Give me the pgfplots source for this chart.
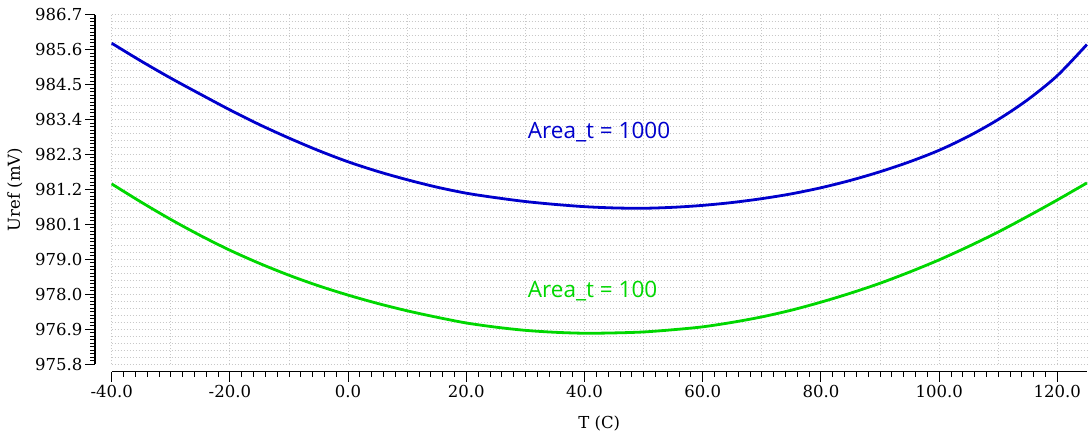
\documentclass[border=0pt]{standalone}
\usepackage{fontspec}
\setmainfont{DejaVu Serif}
\newfontfamily\lblfont{Open Sans}
\usepackage{pgfplots}
\pgfplotsset{compat=1.18}
\definecolor{cblue}{RGB}{0,0,204}
\definecolor{cgreen}{RGB}{0,215,0}
\definecolor{cgrid}{RGB}{200,200,200}

\pgfplotstableread{
x y
-40 985.81
-35 985.25
-30 984.72
-25 984.22
-20 983.73
-15 983.27
-10 982.85
-5 982.46
0 982.11
5 981.81
10 981.55
15 981.32
20 981.13
25 980.99
30 980.87
35 980.78
40 980.71
45 980.67
50 980.66
55 980.69
60 980.75
65 980.84
70 980.96
75 981.11
80 981.30
85 981.53
90 981.80
95 982.11
100 982.47
105 982.91
110 983.43
115 984.05
120 984.80
125 985.77
}\blueT

\pgfplotstableread{
x y
-40 981.42
-35 980.85
-30 980.31
-25 979.81
-20 979.35
-15 978.94
-10 978.57
-5 978.24
0 977.95
5 977.69
10 977.46
15 977.26
20 977.08
25 976.95
30 976.85
35 976.79
40 976.76
45 976.77
50 976.80
55 976.87
60 976.96
65 977.10
70 977.27
75 977.48
80 977.73
85 978.01
90 978.32
95 978.67
100 979.05
105 979.47
110 979.92
115 980.41
120 980.92
125 981.45
}\greenT

\begin{document}
\begin{tikzpicture}
\useasboundingbox (-111.7pt,-68pt) rectangle (977.3pt,364pt);
\begin{axis}[
  at={(0,0)}, anchor=south west,
  scale only axis,
  width=975.2pt, height=349.3pt,
  xmin=-40, xmax=125,
  ymin=975.8, ymax=986.7,
  axis x line*=bottom, axis y line*=left,
  axis x line shift=7.7pt,
  axis y line shift=16.7pt,
  xtick={-40,-20,0,20,40,60,80,100,120},
  xticklabels={-40.0,-20.0,0.0,20.0,40.0,60.0,80.0,100.0,120.0},
  ytick={975.8,976.89,977.98,979.07,980.16,981.25,982.34,983.43,984.52,985.61,986.7},
  yticklabels={975.8,976.9,978.0,979.0,980.1,981.2,982.3,983.4,984.5,985.6,986.7},
  minor x tick num=9,
  minor y tick num=9,
  tick align=outside,
  major tick length=10pt,
  minor tick length=5pt,
  every tick/.style={black, line width=0.9pt},
  axis line style={black, line width=1.2pt},
  tick label style={font=\fontsize{16.5}{19}\selectfont},
  yticklabel style={xshift=1pt},
  xlabel={T (C)}, ylabel={Uref (mV)},
  every axis x label/.style={at={(axis description cs:0.5,0)}, yshift=-59.5pt, anchor=center, font=\fontsize{16.5}{19}\selectfont},
  every axis y label/.style={at={(axis description cs:0,0.5)}, xshift=-96.7pt, rotate=90, anchor=center, font=\fontsize{16.5}{19}\selectfont},
  clip=false,
]
\pgfplotsinvokeforeach{0,...,50}{
  \draw[cgrid, line width=0.9pt, dash pattern=on 1pt off 2pt] (axis cs:-40,{975.8+#1*0.218}) -- (axis cs:125,{975.8+#1*0.218});
}
\pgfplotsinvokeforeach{-40,-30,...,120}{
  \draw[cgrid, line width=0.9pt, dash pattern=on 1pt off 2pt] (axis cs:#1,975.8) -- (axis cs:#1,986.7);
}
\addplot[cblue, line width=2.8pt, smooth] table[x=x,y=y] {\blueT};
\addplot[cgreen, line width=2.8pt, smooth] table[x=x,y=y] {\greenT};
\node[anchor=base west, inner sep=0pt, text=cblue, font=\lblfont\fontsize{22.5}{26}\selectfont] at (axis cs:30.4,982.85) {Area\_t = 1000};
\node[anchor=base west, inner sep=0pt, text=cgreen, font=\lblfont\fontsize{22.5}{26}\selectfont] at (axis cs:30.4,977.89) {Area\_t = 100};
\end{axis}
\end{tikzpicture}
\end{document}
